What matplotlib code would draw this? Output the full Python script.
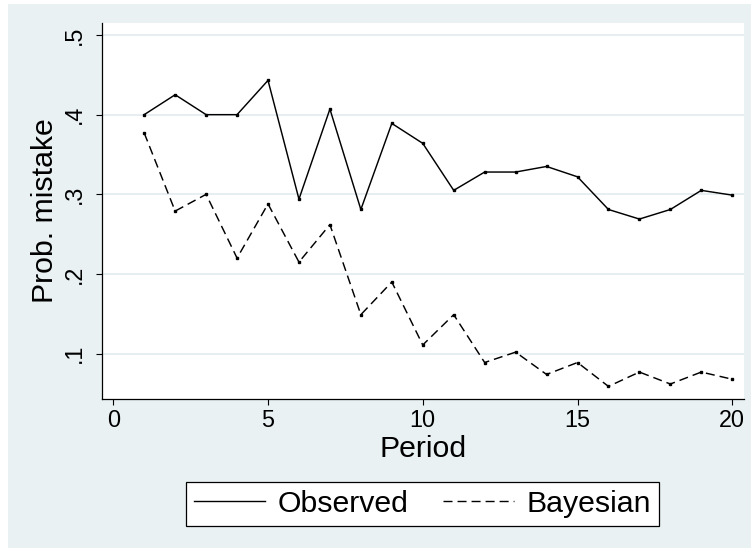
import matplotlib
matplotlib.use('Agg')
import matplotlib.pyplot as plt
from matplotlib.patches import Rectangle
from matplotlib.lines import Line2D

# Probability of a mistake by period: observed choices vs. Bayesian benchmark
period = list(range(1, 21))
observed = [0.400, 0.425, 0.400, 0.400, 0.443, 0.294, 0.407, 0.281, 0.389, 0.364,
            0.305, 0.328, 0.328, 0.335, 0.322, 0.281, 0.269, 0.281, 0.305, 0.299]
bayesian = [0.377, 0.279, 0.300, 0.220, 0.288, 0.215, 0.262, 0.149, 0.190, 0.111,
            0.149, 0.089, 0.102, 0.074, 0.089, 0.059, 0.077, 0.062, 0.077, 0.068]

yticks = [0.1, 0.2, 0.3, 0.4, 0.5]
ytick_labels = ['.1', '.2', '.3', '.4', '.5']
xticks = [0, 5, 10, 15, 20]

bg = '#e9f1f3'
dash = (0, (6.5, 3.6))
plt.rcParams['font.family'] = ['Liberation Sans', 'DejaVu Sans']
plt.rcParams['lines.scale_dashes'] = False

fig = plt.figure(figsize=(7.51, 5.48), dpi=100, facecolor='white')
# shaded graph region
fig.patches.append(Rectangle((8 / 751, 0), 1, 1 - 4 / 548, transform=fig.transFigure,
                             facecolor=bg, edgecolor='none', zorder=-10))

ax = fig.add_axes([0.1354, 0.2719, 0.9907 - 0.1354, 0.958 - 0.2719])
ax.set_facecolor('white')

ax.plot(period, observed, color='black', lw=1.05, marker='s', markersize=1.5)
ax.plot(period, bayesian, color='black', lw=1.05, marker='s', markersize=1.5,
        linestyle=dash)

ax.set_xlim(-0.374, 20.38)
ax.set_ylim(0.0432, 0.515)
ax.set_xticks(xticks)
ax.set_yticks(yticks)
ax.set_yticklabels(ytick_labels, rotation=90, va='center')
ax.grid(axis='y', color='#e4edf0', lw=1.3)
ax.set_axisbelow(True)

for side in ['top', 'right']:
    ax.spines[side].set_visible(False)
for side in ['left', 'bottom']:
    ax.spines[side].set_linewidth(0.9)

ax.tick_params(axis='both', length=4.5, width=0.8, labelsize=16.8, color='black')
ax.tick_params(axis='x', pad=2.5)
ax.tick_params(axis='y', pad=7)

ax.set_xlabel('Period', fontsize=21.8, labelpad=2.5)
ax.set_ylabel('Prob. mistake', fontsize=21.8, labelpad=3)

handles = [Line2D([], [], color='black', lw=1.0),
           Line2D([], [], color='black', lw=1.0, linestyle=dash)]
leg = fig.legend(handles, ['Observed', 'Bayesian'], loc='center',
                 bbox_to_anchor=(0.5628, 0.0808), ncol=2,
                 fontsize=21.8, frameon=True, fancybox=False, framealpha=1,
                 edgecolor='black', handlelength=2.35, handletextpad=0.41,
                 columnspacing=1.13, borderpad=0.26, borderaxespad=0)
leg.get_frame().set_linewidth(0.9)
leg.get_frame().set_facecolor('white')

fig.savefig('out.png', dpi=100, facecolor=fig.get_facecolor())
